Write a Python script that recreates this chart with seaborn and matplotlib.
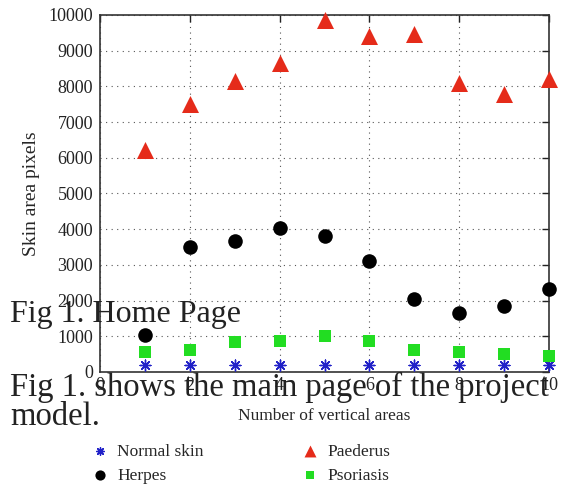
import matplotlib
matplotlib.use("Agg")
import matplotlib.pyplot as plt
import seaborn as sns
import pandas as pd

areas = [1, 2, 3, 4, 5, 6, 7, 8, 9, 10]
normal_skin = [190, 190, 190, 190, 190, 190, 190, 190, 190, 190]
herpes = [1030, 3500, 3680, 4020, 3820, 3100, 2050, 1660, 1850, 2330]
paederus = [6220, 7500, 8150, 8650, 9850, 9400, 9480, 8100, 7800, 8200]
psoriasis = [550, 620, 850, 880, 1000, 880, 620, 550, 500, 460]
x_ticks = [0, 2, 4, 6, 8, 10]
y_ticks = [0, 1000, 2000, 3000, 4000, 5000, 6000, 7000, 8000, 9000, 10000]

sns.set_style("white")
plt.rcParams['font.family'] = ['Liberation Serif', 'DejaVu Serif']

fig = plt.figure(figsize=(5.63, 4.86), dpi=100)
ax = fig.add_axes([100/563, 1-372/486, 449/563, 357/486])

series = [
    ("Normal skin", normal_skin, (8, 2, 0), "#2020c8", 60),
    ("Herpes", herpes, "o", "black", 110),
    ("Paederus", paederus, "^", "#e52b1a", 150),
    ("Psoriasis", psoriasis, "s", "#22dd22", 70),
]
for name, vals, mk, col, sz in series:
    df = pd.DataFrame({"x": areas, "y": vals})
    if mk == (8, 2, 0):
        sns.scatterplot(data=df, x="x", y="y", marker=mk, color=col, s=sz,
                        linewidth=1.0, edgecolor=col, label=name, ax=ax, clip_on=False, zorder=3)
    else:
        sns.scatterplot(data=df, x="x", y="y", marker=mk, color=col, s=sz,
                        linewidth=0, label=name, ax=ax, clip_on=False, zorder=3)

ax.set_xlim(0, 10)
ax.set_ylim(0, 10000)
ax.set_xticks(x_ticks)
ax.set_yticks(y_ticks)
ax.grid(True, linestyle=(0, (1, 4)), color="#555555", linewidth=0.8)
ax.tick_params(direction="in", top=True, right=True, length=5, width=1,
               labelsize=13, colors="#222222")
ax.tick_params(axis="y", pad=5)
for sp in ax.spines.values():
    sp.set_color("#333333")
    sp.set_linewidth(1.2)
ax.set_xlabel("Number of vertical areas", fontsize=12.5, labelpad=10)
ax.set_ylabel("Skin area pixels", fontsize=14, labelpad=6)

ax.get_legend().remove()
handles, labels = ax.get_legend_handles_labels()
fig.legend(handles, labels, ncol=2, loc="upper left",
           bbox_to_anchor=(74/563, 1-428/486), frameon=False, fontsize=12.5,
           columnspacing=5.5, handletextpad=0.4, labelspacing=0.45, handlelength=1.2,
           markerscale=0.7)

fig.text(10/563, 1-322/486, "Fig 1. Home Page", fontsize=23, color="#222222")
fig.text(10/563, 1-396/486, "Fig 1. shows the main page of the project", fontsize=23.5, color="#222222")
fig.text(10/563, 1-425/486, "model.", fontsize=23.5, color="#222222")

fig.savefig("out.png", dpi=100)
